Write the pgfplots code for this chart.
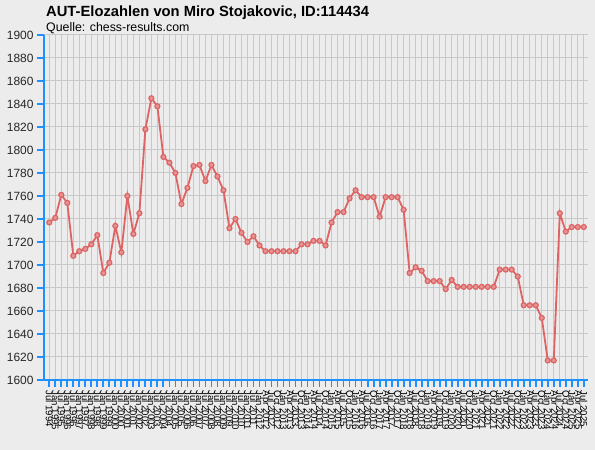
\documentclass[border=0pt]{standalone}
\usepackage{fontspec}
\setmainfont{Liberation Sans}
\usepackage{pgfplots}
\pgfplotsset{compat=1.18}
\definecolor{bg}{HTML}{ECECEC}
\definecolor{gridc}{HTML}{C8C8C8}
\definecolor{axblue}{HTML}{1E90FF}
\definecolor{elored}{HTML}{DE6464}
\begin{document}
\begin{tikzpicture}[x=1bp,y=1bp]
\path[use as bounding box, fill=bg] (-44,-70) rectangle (551,380);
\begin{axis}[
    at={(0,0)}, anchor=south west,
    scale only axis, width=544bp, height=345bp,
    xmin=-0.88, xmax=89.7, ymin=1600, ymax=1900,
    axis x line=bottom, axis y line=left,
    axis line style={draw=axblue, line width=2bp, -},
    tick align=outside, major tick length=7bp,
    tick style={draw=axblue, line width=1.8bp},
    grid=major, grid style={draw=gridc, line width=1bp},
    ytick={1600,1620,...,1900},
    xtick={0,...,89},
    xticklabels={Jul 1994,Jan 1995,Jul 1995,Jan 1996,Jul 1996,Jan 1997,Jul 1997,Jan 1998,Jul 1998,Jan 1999,Jul 1999,Jan 2000,Jul 2000,Jan 2001,Jul 2001,Jan 2002,Jul 2002,Jan 2003,Jul 2003,Jan 2004,Jul 2004,Jan 2005,Jul 2005,Jan 2006,Jul 2006,Jan 2007,Jul 2007,Jan 2008,Jul 2008,Jan 2009,Jul 2009,Jan 2010,Jul 2010,Jan 2011,Jul 2011,
      Jan 2012,Apr 2012,Jul 2012,Oct 2012,Jan 2013,Apr 2013,Jul 2013,Oct 2013,Jan 2014,Apr 2014,Jul 2014,Oct 2014,Jan 2015,Apr 2015,Jul 2015,Oct 2015,Jan 2016,Apr 2016,Jul 2016,Oct 2016,Jan 2017,Apr 2017,Jul 2017,Oct 2017,Jan 2018,Apr 2018,Jul 2018,Oct 2018,Jan 2019,Apr 2019,Jul 2019,Oct 2019,Jan 2020,Apr 2020,Jul 2020,Oct 2020,Jan 2021,Apr 2021,Jul 2021,Oct 2021,Jan 2022,Apr 2022,Jul 2022,Oct 2022,Jan 2023,Apr 2023,Jul 2023,Oct 2023,Jan 2024,Apr 2024,Jul 2024,Oct 2024,Jan 2025,Apr 2025,Jul 2025},
    x tick label style={rotate=-90, anchor=west, inner sep=3.5bp, font=\fontsize{9.6}{9.6}\selectfont},
    y tick label style={font=\fontsize{12}{12}\selectfont, text=black!85},
    /pgf/number format/assume math mode=true,
    /pgf/number format/1000 sep={},
  ]
  \addplot[elored, line width=1.8bp, mark=*, mark size=2.5bp,
           mark options={fill=elored!70!white, draw=elored, line width=1.2bp}]
    coordinates {
    (0,1737)(1,1741)(2,1761)(3,1754)(4,1708)(5,1712)(6,1714)(7,1718)(8,1726)(9,1693)
    (10,1702)(11,1734)(12,1711)(13,1760)(14,1727)(15,1745)(16,1818)(17,1845)(18,1838)(19,1794)
    (20,1789)(21,1780)(22,1753)(23,1767)(24,1786)(25,1787)(26,1773)(27,1787)(28,1777)(29,1765)
    (30,1732)(31,1740)(32,1728)(33,1720)(34,1725)(35,1717)(36,1712)(37,1712)(38,1712)(39,1712)
    (40,1712)(41,1712)(42,1718)(43,1718)(44,1721)(45,1721)(46,1717)(47,1737)(48,1746)(49,1746)
    (50,1758)(51,1765)(52,1759)(53,1759)(54,1759)(55,1742)(56,1759)(57,1759)(58,1759)(59,1748)
    (60,1693)(61,1698)(62,1695)(63,1686)(64,1686)(65,1686)(66,1679)(67,1687)(68,1681)(69,1681)
    (70,1681)(71,1681)(72,1681)(73,1681)(74,1681)(75,1696)(76,1696)(77,1696)(78,1690)(79,1665)
    (80,1665)(81,1665)(82,1654)(83,1617)(84,1617)(85,1745)(86,1729)(87,1733)(88,1733)(89,1733)
    };
\end{axis}
\node[anchor=base west, inner sep=0, font=\bfseries\fontsize{14.8}{14.8}\selectfont] at (2,363) {AUT-Elozahlen von Miro Stojakovic, ID:114434};
\node[anchor=base west, inner sep=0, font=\fontsize{12.4}{12.4}\selectfont] at (2,348.3) {Quelle: chess-results.com};
\end{tikzpicture}
\end{document}
